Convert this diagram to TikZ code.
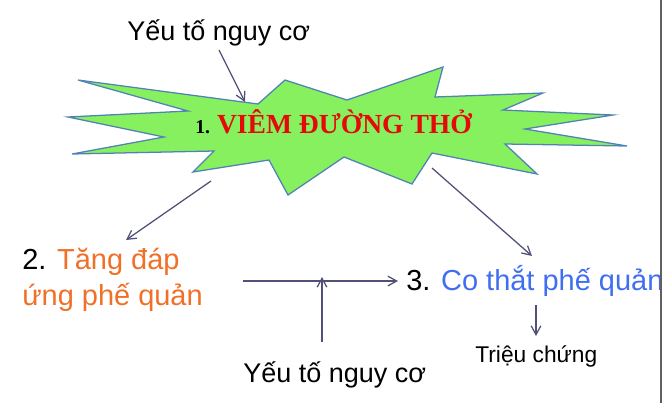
\documentclass[tikz,border=0pt]{standalone}
\usepackage{fontspec}
\setmainfont{Liberation Serif}
\setsansfont{Liberation Sans}
\usepackage{tikz}
\usetikzlibrary{arrows.meta, positioning}
\definecolor{starfill}{RGB}{135,240,95}
\definecolor{starline}{RGB}{80,130,180}
\definecolor{arrowgray}{RGB}{80,80,120}
\definecolor{titlered}{RGB}{228,10,10}
\definecolor{steporange}{RGB}{240,112,40}
\definecolor{stepblue}{RGB}{64,110,240}
\tikzset{
  burst/.style={
    draw=starline, fill=starfill, line width=0.9pt, line join=miter
  },
  flowarrow/.style={
    -{Straight Barb[length=2.2mm, width=2.4mm]}, line width=0.9pt, color=arrowgray
  },
  risktext/.style={
    font=\sffamily\fontsize{19.2}{23}\selectfont, anchor=base west, inner sep=0pt
  },
  steptext/.style={
    font=\sffamily\fontsize{20.6}{25}\selectfont, anchor=base west,
    inner sep=0pt, align=left
  },
  smalltext/.style={
    font=\sffamily\fontsize{16.2}{19}\selectfont, anchor=base west, inner sep=0pt
  },
  titletext/.style={
    font=\bfseries\fontsize{19.6}{22}\selectfont, anchor=base west, inner sep=0pt
  },
}

\begin{document}
\begin{tikzpicture}[x=0.025cm, y=-0.025cm]
  \useasboundingbox (0,0) rectangle (664,403);

  % ── Burst shape ────────────────────────────────────────────────
  \draw[burst]
    (78,80) -- (258,104) -- (285,80) -- (347,100) -- (443,67)
    -- (435,97) -- (543,93) -- (503,110) -- (613,115) -- (525,129)
    -- (627,146) -- (505,144) -- (537,174) -- (432,153) -- (412,184)
    -- (344,157) -- (288,195) -- (269,160) -- (193,172) -- (214,151)
    -- (72,154) -- (164,137) -- (68,117) -- (188,111) -- cycle;

  \node[titletext] (inflam) at (195,133)
    {{\fontsize{14}{14}\selectfont 1.}\hspace{5pt}\textcolor{titlered}{VIÊM ĐƯỜNG THỞ}};

  % ── Texts ──────────────────────────────────────────────────────
  \node[risktext] (risktop) at (127,40) {Yếu tố nguy cơ};
  \node[steptext] (hyper) at (22,305)
    {2. \textcolor{steporange}{Tăng đáp}\\\textcolor{steporange}{ứng phế quản}};
  \begin{scope}
    \clip (0,0) rectangle (659,403);
    \node[steptext] (spasm) at (406,290)
      {3. \textcolor{stepblue}{Co thắt phế quản}};
  \end{scope}
  \node[smalltext] (symptom) at (475,362) {Triệu chứng};
  \node[risktext] (riskbot) at (243,382) {Yếu tố nguy cơ};

  % right edge
  \draw[line width=1.1pt, gray!75!black] (661,0) -- (661,403);

  % ── Arrow ends ─────────────────────────────────────────────────
  \coordinate (topin) at (245,102);
  \coordinate (topout) at (219,50);
  \coordinate (leftout) at (211,181);
  \coordinate (leftin) at (126,240);
  \coordinate (rightout) at (432,168);
  \coordinate (rightin) at (532,256);
  \coordinate (midfrom) at (243,281);
  \coordinate (midto) at (398,281);
  \coordinate (riskup) at (322,342);
  \coordinate (riskjoin) at (322,277);
  \coordinate (symfrom) at (536,305);
  \coordinate (symto) at (536,336);

  % ── Arrows ─────────────────────────────────────────────────────
  \draw[flowarrow] (topout) -- (topin);
  \draw[flowarrow] (leftout) -- (leftin);
  \draw[flowarrow] (rightout) -- (rightin);
  \draw[flowarrow] (midfrom) -- (midto);
  \draw[flowarrow] (riskup) -- (riskjoin);
  \draw[flowarrow] (symfrom) -- (symto);
\end{tikzpicture}
\end{document}
